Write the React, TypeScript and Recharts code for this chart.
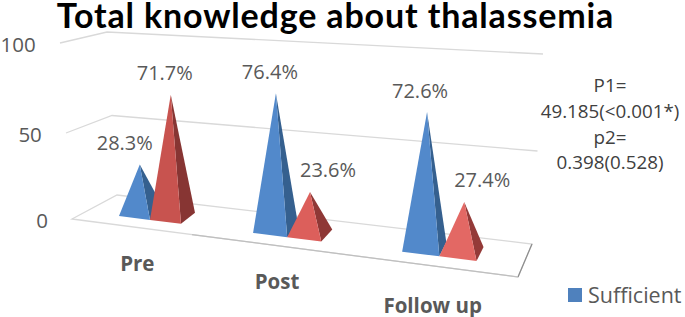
import React from 'react'
import { BarChart, Bar, XAxis, YAxis, CartesianGrid, Legend, LabelList } from 'recharts'

const categories = ['Pre', 'Post', 'Follow up']
const sufficient = [28.3, 76.4, 72.6]
const insufficient = [71.7, 23.6, 27.4]
const yTicks = [0, 50, 100]
const pValues = ['P1=', '49.185(<0.001*)', 'p2=', '0.398(0.528)']

const rows = categories.map((name, i) => ({
  name,
  sufficient: sufficient[i],
  insufficient: insufficient[i],
}))

const FONT = '"Open Sans", sans-serif'
const TITLE_FONT = 'Lato, "Open Sans", sans-serif'
const TEXT = '#595959'

// Fake 3D: one entry per category, the further right the closer to the viewer.
const PERSPECTIVE = [
  { shiftX: 4, widen: 1.0, grow: 0.965, depthX: 14, depthY: -11 },
  { shiftX: -7.5, widen: 1.1, grow: 1.015, depthX: 11, depthY: -12 },
  { shiftX: -4, widen: 1.2, grow: 1.07, depthX: 7, depthY: -14 },
]
const LABEL_SHIFT = {
  sufficient: [-15, -6, -7],
  insufficient: [-6, 18, 18],
}
const TICK_SHIFT = [
  { dx: -9, dy: 35 },
  { dx: -18, dy: 53 },
  { dx: -11, dy: 77 },
]
const BLUE = { front: '#5289cb', side: '#35608f' }
const REDS = [
  { front: '#c8534f', side: '#873533' },
  { front: '#dc5f5b', side: '#8f3836' },
  { front: '#e36864', side: '#943a38' },
]

// the floor runs downhill to the right
const floorY = (x: number) => 216 + 0.126 * (x - 119)

function pyramid(x: number, width: number, height: number, index: number, side: -1 | 1) {
  const p = PERSPECTIVE[index]
  // the two bars touch at the band centre, so widen around that seam
  const seam = (side < 0 ? x + width : x) + p.shiftX
  const w = width * p.widen
  const left = side < 0 ? seam - w : seam
  const right = left + w
  const apexX = left + w * 0.67
  const apexY = floorY(apexX) - 6 - height * p.grow
  return { left, right, apexX, apexY, depthX: p.depthX, depthY: p.depthY }
}

function makeShape(series: 'sufficient' | 'insufficient') {
  return function PyramidShape(props: any) {
    const { x, width, height, index } = props
    const side = series === 'sufficient' ? -1 : 1
    const g = pyramid(x, width, height, index, side)
    const colors = series === 'sufficient' ? BLUE : REDS[index]
    const yl = floorY(g.left)
    const yr = floorY(g.right)
    return (
      <g>
        <polygon
          points={`${g.right},${yr} ${g.right + g.depthX},${yr + g.depthY} ${g.apexX},${g.apexY}`}
          fill={colors.side}
        />
        <polygon points={`${g.left},${yl} ${g.right},${yr} ${g.apexX},${g.apexY}`} fill={colors.front} />
      </g>
    )
  }
}

function makeLabel(series: 'sufficient' | 'insufficient') {
  return function PyramidLabel(props: any) {
    const { x, width, height, index, value } = props
    const side = series === 'sufficient' ? -1 : 1
    const g = pyramid(x, width, height, index, side)
    return (
      <text
        x={g.apexX + LABEL_SHIFT[series][index]}
        y={g.apexY - 22}
        textAnchor="middle"
        dominantBaseline="central"
        fontFamily={FONT}
        fontSize={20}
        fill={TEXT}
      >
        {value}%
      </text>
    )
  }
}

// Wall lines: one polyline per tick, drawn from the y the axis hands over.
function WallLine(props: any) {
  const { x1, x2, y1 } = props
  const t = (219 - y1) / 176
  const y = y1 + 8 * t * (1 - t)
  const fx = x1 - 12 * t
  const bl = [fx + 45 + 2 * t, y - 24 + 13 * t]
  const br = [fx + 460 + 23 * t, y + 25 - 14 * t]
  if (t > 0.01) {
    return (
      <polyline
        key={props.key}
        points={`${fx},${y} ${bl[0]},${bl[1]} ${br[0]},${br[1]}`}
        fill="none"
        stroke="#d9d9d9"
        strokeWidth={1.3}
      />
    )
  }
  return (
    <g key={props.key}>
      <polygon
        points={`${fx},${y} ${bl[0]},${bl[1]} ${br[0]},${br[1]} ${x2},277`}
        fill="#fff"
        stroke="#d9d9d9"
        strokeWidth={1.3}
      />
      <line x1={br[0]} y1={br[1]} x2={x2} y2={277} stroke="#8c8c8c" strokeWidth={1.2} />
      <line x1={fx + 120} y1={y + 15.6} x2={x2} y2={277} stroke="#bfbfbf" strokeWidth={1.2} />
    </g>
  )
}

function YTick(props: any) {
  const { y, payload } = props
  const t = (219 - y) / 176
  return (
    <text
      x={48 - 12.3 * t}
      y={y + 8 * t * (1 - t) + 1}
      textAnchor="end"
      dominantBaseline="central"
      fontFamily={FONT}
      fontSize={20.5}
      fill={TEXT}
    >
      {payload.value}
    </text>
  )
}

function XTick(props: any) {
  const { x, payload, index } = props
  const s = TICK_SHIFT[index]
  return (
    <text
      x={x + s.dx}
      y={228 + s.dy}
      textAnchor="middle"
      dominantBaseline="central"
      fontFamily={FONT}
      fontWeight={700}
      fontSize={20.5}
      fill={TEXT}
    >
      {payload.value}
    </text>
  )
}

// Only the first legend entry fits, the second runs off the picture.
function LegendFirst() {
  return (
    <div style={{ display: 'flex', alignItems: 'center', fontFamily: FONT, fontSize: 21.5, color: TEXT, whiteSpace: 'nowrap' }}>
      <span style={{ width: 14, height: 14, background: '#4f81bd', marginRight: 6, display: 'inline-block' }} />
      Sufficient
    </div>
  )
}

export default function App() {
  return (
    <div style={{ position: 'absolute', left: 0, top: 0, width: 685, height: 317, overflow: 'hidden', background: '#fff' }}>
      <BarChart
        width={685}
        height={317}
        data={rows}
        margin={{ top: 43, right: 167, left: 0, bottom: 0 }}
        barCategoryGap={43}
        barGap={0}
      >
        <CartesianGrid vertical={false} horizontal={WallLine} />
        <XAxis dataKey="name" height={98} axisLine={false} tickLine={false} tick={XTick} interval={0} />
        <YAxis width={72} domain={[0, 100]} ticks={yTicks} axisLine={false} tickLine={false} tick={YTick} />
        <Legend
          verticalAlign="middle"
          content={LegendFirst}
          wrapperStyle={{ left: 568, top: 280, width: 130, margin: 0 }}
        />
        <Bar dataKey="sufficient" isAnimationActive={false} shape={makeShape('sufficient')}>
          <LabelList dataKey="sufficient" content={makeLabel('sufficient')} />
        </Bar>
        <Bar dataKey="insufficient" isAnimationActive={false} shape={makeShape('insufficient')}>
          <LabelList dataKey="insufficient" content={makeLabel('insufficient')} />
        </Bar>
        <text
          x={335.5}
          y={28}
          textAnchor="middle"
          fontFamily={TITLE_FONT}
          fontWeight={700}
          fontSize={34}
          letterSpacing={0.85}
          fill="#000"
        >
          Total knowledge about thalassemia
        </text>
        {pValues.map((line, i) => (
          <text
            key={line}
            x={610}
            y={85 + i * 25.8}
            textAnchor="middle"
            dominantBaseline="central"
            fontFamily={FONT}
            fontSize={18.8}
            fill="#404040"
          >
            {line}
          </text>
        ))}
      </BarChart>
    </div>
  )
}
